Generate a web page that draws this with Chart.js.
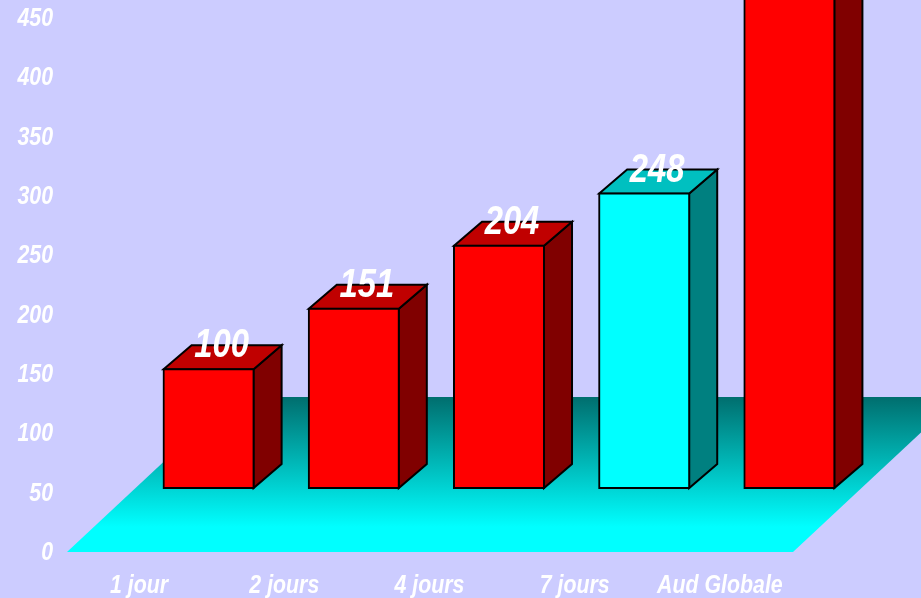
<!DOCTYPE html>
<html>
<head>
<meta charset="utf-8">
<style>html,body{margin:0;padding:0;background:#ccccff;overflow:hidden}canvas{display:block}</style>
<script src="https://cdn.jsdelivr.net/npm/chart.js@4"></script>
</head>
<body>
<canvas id="c" width="921" height="598"></canvas>
<script>
const categories = ["1 jour", "2 jours", "4 jours", "7 jours", "Aud Globale"];
const values = [100, 151, 204, 248, 480];
const valueLabels = ["100", "151", "204", "248", ""];
const frontColors = ["#ff0000", "#ff0000", "#ff0000", "#00ffff", "#ff0000"];
const topColors = ["#c00000", "#c00000", "#c00000", "#00c0c0", "#c00000"];
const sideColors = ["#800000", "#800000", "#800000", "#008080", "#800000"];
const FONT = '"Liberation Sans",Arial,sans-serif';
const floorDepth = {x: 166, y: 155};
const barOffset = {x: 69, y: -64};
const barDepth = {x: 28, y: 24};
const textSqueeze = 0.82;

function poly(ctx, pts, fill) {
  ctx.beginPath();
  pts.forEach((p, i) => i ? ctx.lineTo(p[0], p[1]) : ctx.moveTo(p[0], p[1]));
  ctx.closePath();
  ctx.fillStyle = fill;
  ctx.fill();
  ctx.lineWidth = 2;
  ctx.strokeStyle = "#000";
  ctx.lineJoin = "miter";
  ctx.stroke();
}

function squeezedText(ctx, text, x, y, size, align) {
  ctx.save();
  ctx.translate(x, y);
  ctx.scale(textSqueeze, 1);
  ctx.font = "italic bold " + size + "px " + FONT;
  ctx.fillStyle = "#ffffff";
  ctx.textAlign = align;
  ctx.textBaseline = "middle";
  ctx.fillText(text, 0, 0);
  ctx.restore();
}

const scene3d = {
  id: "scene3d",
  beforeDatasetsDraw(chart) {
    const {ctx, chartArea: a} = chart;
    ctx.save();
    const backY = a.bottom - floorDepth.y;
    const g = ctx.createLinearGradient(0, backY, 0, a.bottom - 25);
    g.addColorStop(0, "#006e6e");
    g.addColorStop(1, "#00ffff");
    ctx.beginPath();
    ctx.moveTo(a.left, a.bottom);
    ctx.lineTo(a.right, a.bottom);
    ctx.lineTo(a.right + floorDepth.x, backY);
    ctx.lineTo(a.left + floorDepth.x, backY);
    ctx.closePath();
    ctx.fillStyle = g;
    ctx.fill();
    ctx.restore();

    ctx.save();
    ctx.translate(barOffset.x, barOffset.y);
    chart.getDatasetMeta(0).data.forEach((b, i) => {
      const l = b.x - b.width / 2, r = b.x + b.width / 2;
      const dx = barDepth.x, dy = barDepth.y;
      poly(ctx, [[r, b.y], [r + dx, b.y - dy], [r + dx, b.base - dy], [r, b.base]], sideColors[i]);
      poly(ctx, [[l, b.y], [l + dx, b.y - dy], [r + dx, b.y - dy], [r, b.y]], topColors[i]);
    });
    ctx.restore();

    ctx.save();
    ctx.translate(barOffset.x, barOffset.y);
  },
  afterDatasetsDraw(chart) {
    chart.ctx.restore();
  },
  afterDraw(chart) {
    const ctx = chart.ctx, xs = chart.scales.x, ys = chart.scales.y;
    chart.getDatasetMeta(0).data.forEach((b, i) => {
      squeezedText(ctx, valueLabels[i], b.x + barOffset.x + barDepth.x / 2 - 1, b.y + barOffset.y - 23, 40, "center");
    });
    ys.ticks.forEach((t, i) => {
      squeezedText(ctx, String(t.value), ys.right - 14, ys.getPixelForTick(i) + 1, 26, "right");
    });
    xs.ticks.forEach((t, i) => {
      squeezedText(ctx, categories[i], xs.getPixelForTick(i) - 0.5, xs.top + 34, 26, "center");
    });
  }
};

new Chart(document.getElementById("c"), {
  type: "bar",
  data: {
    labels: categories,
    datasets: [{
      data: values,
      backgroundColor: frontColors,
      borderColor: "#000000",
      borderWidth: 2,
      borderSkipped: false,
      inflateAmount: 1,
      categoryPercentage: 0.62,
      barPercentage: 1,
      clip: false
    }]
  },
  options: {
    responsive: false,
    animation: false,
    events: [],
    layout: {padding: {left: 0, right: 128, top: 0, bottom: 0}},
    plugins: {legend: {display: false}, tooltip: {enabled: false}, title: {display: false}},
    scales: {
      x: {
        grid: {display: false, drawTicks: false},
        border: {display: false},
        afterFit(s) { s.height = 46; s.paddingLeft = s.paddingRight = 0; },
        ticks: {display: false, autoSkip: false}
      },
      y: {
        min: 0,
        max: 465,
        grid: {display: false, drawTicks: false},
        border: {display: false},
        afterFit(s) { s.width = 67; s.paddingTop = s.paddingBottom = 0; },
        ticks: {display: false, stepSize: 50, includeBounds: false}
      }
    }
  },
  plugins: [scene3d]
});
</script>
</body>
</html>
